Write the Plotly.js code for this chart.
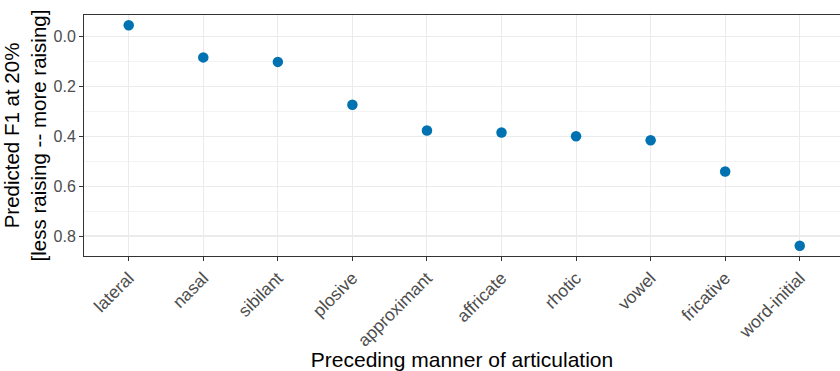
<!DOCTYPE html>
<html><head><meta charset="utf-8">
<script src="https://cdn.plot.ly/plotly-3.0.1.min.js"></script>
<style>html,body{margin:0;padding:0;background:#fff;}#chart{width:840px;height:371px;}</style>
</head><body><div id="chart"></div>
<script>
const categories = ["lateral","nasal","sibilant","plosive","approximant","affricate","rhotic","vowel","fricative","word-initial"];
const predictedF1 = [-0.045, 0.084, 0.102, 0.274, 0.377, 0.385, 0.400, 0.416, 0.541, 0.839];
const yTickVals = [0.0, 0.2, 0.4, 0.6, 0.8];
const yTickText = ["0.0","0.2","0.4","0.6","0.8"];

const trace = {
  x: categories.map((c,i)=>i),
  y: predictedF1,
  type: 'scatter', mode: 'markers',
  marker: {color: '#0072B2', size: 10.5},
  cliponaxis: false,
  hoverinfo: 'skip'
};
const font = {family: '"Liberation Sans", Arial, sans-serif'};
const layout = {
  width: 840, height: 371,
  margin: {l: 83.5, r: 0, t: 14.5, b: 115},
  paper_bgcolor: '#fff', plot_bgcolor: '#fff',
  font: font,
  showlegend: false,
  xaxis: {
    range: [-0.6, 9.54],
    tickvals: categories.map((c,i)=>i), ticktext: categories,
    tickangle: -45,
    tickfont: {size: 17.5, color: '#4D4D4D', family: font.family},
    ticks: 'outside', ticklen: 4, tickcolor: '#333333', tickwidth: 1,
    showgrid: true, gridcolor: '#EBEBEB', gridwidth: 1,
    showline: true, linecolor: '#333333', linewidth: 1, mirror: true,
    zeroline: false,
    title: {text: 'Preceding manner of articulation', font: {size: 21, color: '#000', family: font.family}, standoff: 5}
  },
  yaxis: {
    range: [0.88, -0.086],
    tickvals: yTickVals, ticktext: yTickText,
    tickfont: {size: 16, color: '#4D4D4D', family: font.family},
    ticks: 'outside', ticklen: 4, tickcolor: '#333333', tickwidth: 1,
    showgrid: true, gridcolor: '#EBEBEB', gridwidth: 1.1,
    minor: {dtick: 0.1, tick0: 0, showgrid: true, gridcolor: '#EBEBEB', gridwidth: 0.6, ticks: ''},
    showline: true, linecolor: '#333333', linewidth: 1, mirror: false,
    zeroline: false,
    title: {text: 'Predicted F1 at 20%<br>[less raising -- more raising]', font: {size: 20.5, color: '#000', family: font.family}, standoff: 6}
  }
};
Plotly.newPlot('chart', [trace], layout, {displayModeBar: false, staticPlot: true});
</script></body></html>
